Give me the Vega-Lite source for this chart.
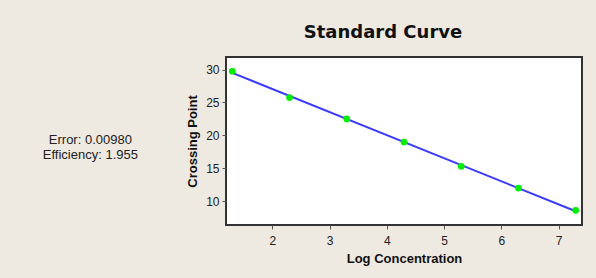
{
  "$schema": "https://vega.github.io/schema/vega-lite/v6.json",
  "width": 356,
  "height": 168,
  "autosize": "none",
  "padding": {"left": 226, "top": 57, "right": 14, "bottom": 53},
  "background": "#EEE9E1",
  "title": {
    "text": "Standard Curve",
    "font": "DejaVu Sans",
    "fontSize": 18,
    "fontWeight": "bold",
    "color": "#111111",
    "anchor": "middle",
    "dx": -21,
    "offset": 15
  },
  "config": {
    "view": {"fill": "white", "stroke": "#333333", "strokeWidth": 2},
    "axis": {
      "labelFont": "Liberation Sans",
      "labelFontSize": 12,
      "labelColor": "#222222",
      "titleFont": "Liberation Sans",
      "titleFontSize": 13,
      "titleFontWeight": "bold",
      "titleColor": "#111111",
      "grid": false,
      "domain": false,
      "tickColor": "#555555",
      "tickSize": 4
    }
  },
  "datasets": {
    "curve": [
      {"logconc": 1.3, "cp": 29.74},
      {"logconc": 2.3, "cp": 25.74},
      {"logconc": 3.3, "cp": 22.5},
      {"logconc": 4.3, "cp": 19.0},
      {"logconc": 5.3, "cp": 15.3},
      {"logconc": 6.3, "cp": 12.0},
      {"logconc": 7.3, "cp": 8.63}
    ],
    "stats": [
      {"label": "Error: 0.00980"}
    ]
  },
  "layer": [
    {
      "data": {"name": "curve"},
      "transform": [{"regression": "cp", "on": "logconc"}],
      "mark": {"type": "line", "color": "#3a3aff", "strokeWidth": 2},
      "encoding": {
        "x": {
          "field": "logconc",
          "type": "quantitative",
          "scale": {"domain": [1.19, 7.41], "nice": false, "zero": false},
          "axis": {"title": "Log Concentration", "values": [2, 3, 4, 5, 6, 7], "format": "d", "labelPadding": 6, "titlePadding": 6}
        },
        "y": {
          "field": "cp",
          "type": "quantitative",
          "scale": {"domain": [6.4, 31.9], "nice": false, "zero": false},
          "axis": {"title": "Crossing Point", "values": [10, 15, 20, 25, 30], "format": "d", "labelPadding": 3, "titlePadding": 6}
        }
      }
    },
    {
      "data": {"name": "curve"},
      "mark": {"type": "point", "shape": "circle", "filled": true, "color": "#00ee00", "size": 45, "opacity": 1},
      "encoding": {
        "x": {"field": "logconc", "type": "quantitative"},
        "y": {"field": "cp", "type": "quantitative"}
      }
    },
    {
      "data": {"name": "stats"},
      "mark": {
        "type": "text",
        "text": ["Error: 0.00980", "Efficiency: 1.955"],
        "lineHeight": 15,
        "font": "Liberation Sans",
        "fontSize": 13,
        "fontWeight": "normal",
        "color": "#222222",
        "align": "center",
        "baseline": "middle"
      },
      "encoding": {
        "x": {"datum": -1.18, "type": "quantitative"},
        "y": {"datum": 19.3, "type": "quantitative"}
      }
    }
  ]
}
